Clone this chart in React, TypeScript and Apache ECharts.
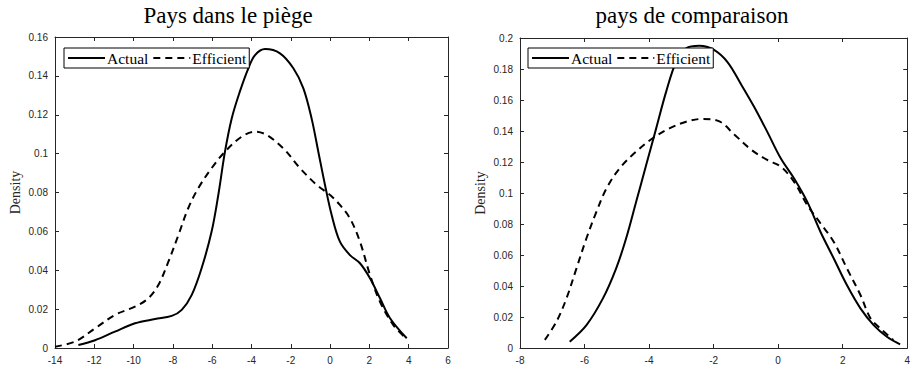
import React, { useEffect, useRef } from "react";
import * as echarts from "echarts";

const leftTitle = "Pays dans le piège";
const rightTitle = "pays de comparaison";
const seriesNames = ["Actual", "Efficient"];
const yName = "Density";

const leftActual: [number, number][] = [
  [-12.81, 0.0015], [-11.96, 0.004], [-10.95, 0.0084], [-9.93, 0.0127], [-8.91, 0.0149],
  [-8.06, 0.0165], [-7.55, 0.0196], [-7.04, 0.0273], [-6.54, 0.041], [-6.03, 0.0599],
  [-5.69, 0.0787], [-5.35, 0.101], [-5.01, 0.118], [-4.59, 0.132], [-4.16, 0.1439],
  [-3.82, 0.1507], [-3.31, 0.1538], [-2.55, 0.1516], [-1.87, 0.1439], [-1.36, 0.1336],
  [-0.94, 0.118], [-0.6, 0.101], [-0.26, 0.0839], [0.08, 0.0684], [0.5, 0.0547],
  [1.01, 0.0478], [1.52, 0.0436], [2.03, 0.0359], [2.54, 0.0256], [3.05, 0.0153], [3.9, 0.005],
];
const leftEfficient: [number, number][] = [
  [-14, 0.0007], [-12.98, 0.0033], [-11.96, 0.0101], [-10.95, 0.017], [-9.93, 0.0213],
  [-9.25, 0.0256], [-8.74, 0.0324], [-8.23, 0.0444], [-7.72, 0.0581], [-7.22, 0.0719],
  [-6.71, 0.0822], [-6.03, 0.0925], [-5.35, 0.101], [-4.5, 0.1087], [-3.82, 0.1113],
  [-3.23, 0.1096], [-2.38, 0.1027], [-1.53, 0.0925], [-0.68, 0.0839], [0.0, 0.0787],
  [0.5, 0.0736], [1.01, 0.0667], [1.52, 0.0547], [2.03, 0.0376], [2.54, 0.0238],
  [3.22, 0.0118], [3.9, 0.0046],
];
const rightActual: [number, number][] = [
  [-6.46, 0.0041], [-5.94, 0.0148], [-5.43, 0.032], [-5.02, 0.0514], [-4.71, 0.0708],
  [-4.4, 0.0944], [-4.09, 0.118], [-3.78, 0.1417], [-3.47, 0.1654], [-3.16, 0.1847],
  [-2.85, 0.1934], [-2.44, 0.195], [-2.0, 0.1925], [-1.57, 0.1845], [-1.16, 0.1705],
  [-0.75, 0.1558], [-0.34, 0.1396], [0.08, 0.1224], [0.49, 0.1095], [0.9, 0.0944],
  [1.31, 0.075], [1.72, 0.0579], [2.13, 0.0406], [2.55, 0.0256], [2.96, 0.0148],
  [3.37, 0.0073], [3.78, 0.0024],
];
const rightEfficient: [number, number][] = [
  [-7.23, 0.0052], [-6.87, 0.017], [-6.56, 0.032], [-6.25, 0.0514], [-5.94, 0.0708],
  [-5.63, 0.088], [-5.32, 0.103], [-4.91, 0.116], [-4.4, 0.1267], [-3.89, 0.1353],
  [-3.37, 0.1417], [-2.85, 0.146], [-2.34, 0.1478], [-1.82, 0.1462], [-1.36, 0.1378],
  [-0.85, 0.1282], [-0.34, 0.1213], [0.08, 0.117], [0.49, 0.1073], [0.9, 0.0923],
  [1.31, 0.0805], [1.72, 0.0686], [2.13, 0.0514], [2.55, 0.0342], [2.86, 0.0192],
  [3.16, 0.0127], [3.57, 0.0052],
];

const leftX = { min: -14, max: 6, interval: 2 };
const leftY = { min: 0, max: 0.16, interval: 0.02 };
const rightX = { min: -8, max: 4, interval: 2 };
const rightY = { min: 0, max: 0.2, interval: 0.02 };

const AXIS_COLOR = "#262626";
const SANS = "Liberation Sans";
const SERIF = "Liberation Serif";

function fmt(v: number) {
  return String(parseFloat(v.toFixed(3)));
}

function xAxis(gridIndex: number, r: any, top: boolean) {
  return {
    type: "value",
    gridIndex,
    position: top ? "top" : "bottom",
    min: r.min,
    max: r.max,
    interval: r.interval,
    axisLine: { show: true, onZero: false, lineStyle: { color: AXIS_COLOR, width: 1 } },
    axisTick: { show: true, inside: true, length: 4, lineStyle: { color: AXIS_COLOR } },
    axisLabel: {
      show: !top,
      color: AXIS_COLOR,
      fontFamily: SANS,
      fontSize: 10,
      margin: 7,
      formatter: fmt,
    },
    splitLine: { show: false },
  };
}

function yAxis(gridIndex: number, r: any, right: boolean) {
  return {
    type: "value",
    gridIndex,
    position: right ? "right" : "left",
    min: r.min,
    max: r.max,
    interval: r.interval,
    name: right ? "" : yName,
    nameLocation: "middle",
    nameGap: 33,
    nameTextStyle: { fontFamily: SERIF, fontSize: 14, color: AXIS_COLOR },
    axisLine: { show: true, onZero: false, lineStyle: { color: AXIS_COLOR, width: 1 } },
    axisTick: { show: true, inside: true, length: 4, lineStyle: { color: AXIS_COLOR } },
    axisLabel: {
      show: !right,
      color: AXIS_COLOR,
      fontFamily: SANS,
      fontSize: 10,
      margin: 7,
      formatter: fmt,
    },
    splitLine: { show: false },
  };
}

function line(name: string, data: [number, number][], idx: number, dashed: boolean) {
  return {
    type: "line",
    name,
    xAxisIndex: idx,
    yAxisIndex: idx,
    data,
    smooth: 0.35,
    symbol: "none",
    showSymbol: false,
    lineStyle: { color: "#000", width: 2, type: dashed ? [7, 5] : "solid" },
    itemStyle: { color: "#000" },
  };
}

function legend(left: number, top: number) {
  return {
    left,
    top,
    orient: "horizontal",
    data: seriesNames,
    itemWidth: 37,
    itemHeight: 10,
    itemGap: 4,
    padding: [2, 3, 2, 3],
    borderColor: "#000",
    borderWidth: 1,
    backgroundColor: "#fff",
    selectedMode: false,
    itemStyle: { color: "transparent", borderColor: "transparent", borderWidth: 0, opacity: 0 },
    textStyle: { fontFamily: SERIF, fontSize: 15.5, color: "#000", padding: [0, 0, 0, -3] },
  };
}

export default function App() {
  const ref = useRef<HTMLDivElement>(null);
  useEffect(() => {
    if (!ref.current) return;
    const chart = echarts.init(ref.current, undefined, { renderer: "svg" });
    chart.setOption({
      animation: false,
      backgroundColor: "#fff",
      grid: [
        { left: 55, top: 37, width: 393, height: 311 },
        { left: 520, top: 38, width: 389, height: 310 },
      ],
      xAxis: [xAxis(0, leftX, false), xAxis(1, rightX, false), xAxis(0, leftX, true), xAxis(1, rightX, true)],
      yAxis: [yAxis(0, leftY, false), yAxis(1, rightY, false), yAxis(0, leftY, true), yAxis(1, rightY, true)],
      legend: [legend(64, 48), legend(528, 48)],
      series: [
        line(seriesNames[0], leftActual, 0, false),
        line(seriesNames[1], leftEfficient, 0, true),
        line(seriesNames[0], rightActual, 1, false),
        line(seriesNames[1], rightEfficient, 1, true),
      ],
      graphic: [
        {
          type: "text",
          x: 228,
          y: 4,
          style: { text: leftTitle, font: `23px "${SERIF}"`, fill: "#000", align: "center", verticalAlign: "top" },
        },
        {
          type: "text",
          x: 692,
          y: 4,
          style: { text: rightTitle, font: `23px "${SERIF}"`, fill: "#000", align: "center", verticalAlign: "top" },
        },
      ],
    });
    return () => chart.dispose();
  }, []);
  return <div ref={ref} style={{ width: 913, height: 369, position: "absolute", left: 0, top: 0 }} />;
}
